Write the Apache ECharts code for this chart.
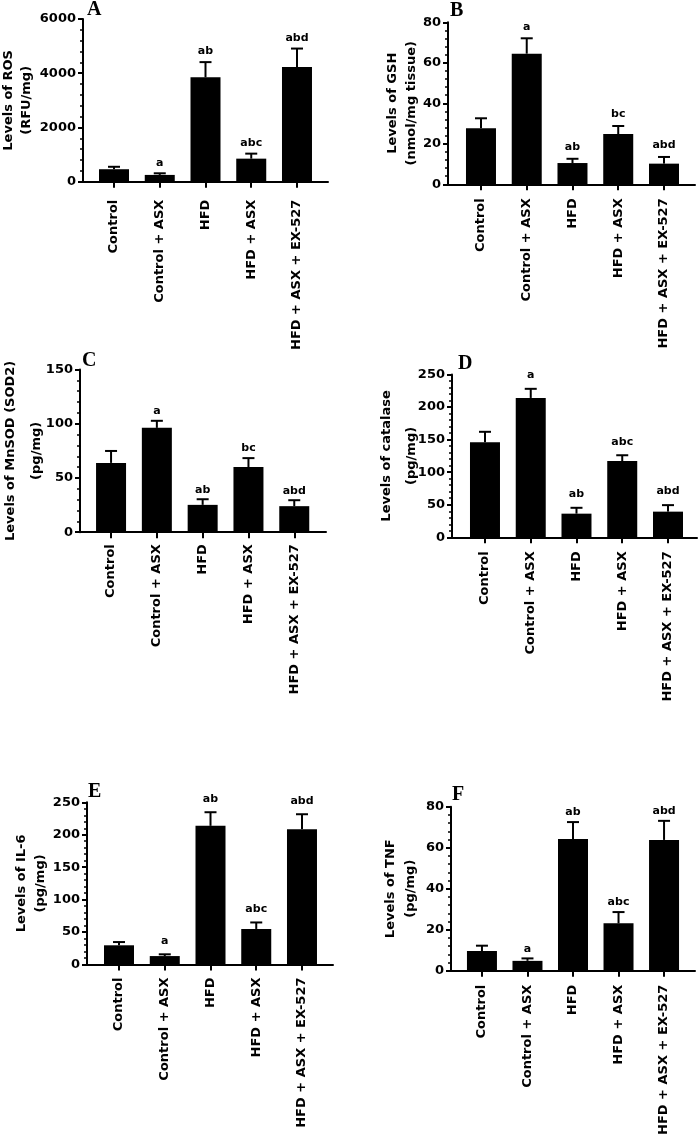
<!DOCTYPE html>
<html><head><meta charset="utf-8">
<script src="https://cdn.jsdelivr.net/npm/echarts@6/dist/echarts.min.js"></script>
<style>html,body{margin:0;padding:0;background:#fff}#c{width:700px;height:1134px}</style>
</head><body><div id="c"></div>
<script>
// ---------- data ----------
const categories = ['Control', 'Control + ASX', 'HFD', 'HFD + ASX', 'HFD + ASX + EX-527'];

const rosMean = [460, 250, 3850, 850, 4230];
const rosErr = [90, 60, 560, 185, 680];
const rosLetters = ['', 'a', 'ab', 'abc', 'abd'];

const gshMean = [27.7, 64.5, 10.5, 24.8, 10.2];
const gshErr = [4.9, 7.6, 2.1, 4.0, 3.3];
const gshLetters = ['', 'a', 'ab', 'bc', 'abd'];

const sodMean = [63.9, 96.2, 25.2, 60.0, 24.0];
const sodErr = [11, 6.5, 5.2, 8.3, 5.5];
const sodLetters = ['', 'a', 'ab', 'bc', 'abd'];

const catMean = [146, 214, 36.3, 117, 39.4];
const catErr = [16, 14, 9, 9, 10];
const catLetters = ['', 'a', 'ab', 'abc', 'abd'];

const il6Mean = [29.6, 13, 213.7, 54.8, 208.6];
const il6Err = [5, 2.7, 21, 10, 23];
const il6Letters = ['', 'a', 'ab', 'abc', 'abd'];

const tnfMean = [9.6, 4.8, 64.2, 23.1, 63.8];
const tnfErr = [2.6, 1.2, 8.3, 5.5, 9.3];
const tnfLetters = ['', 'a', 'ab', 'abc', 'abd'];

const panelLetters = ['A', 'B', 'C', 'D', 'E', 'F'];
const yTitles = [
  'Levels of ROS\n(RFU/mg)',
  'Levels of GSH\n(nmol/mg tissue)',
  'Levels of MnSOD (SOD2)\n(pg/mg)',
  'Levels of catalase\n(pg/mg)',
  'Levels of IL-6\n(pg/mg)',
  'Levels of TNF\n(pg/mg)'
];
const yMax = [6000, 80, 150, 250, 250, 80];
const yInterval = [2000, 20, 50, 50, 50, 20];

const means = [rosMean, gshMean, sodMean, catMean, il6Mean, tnfMean];
const errs = [rosErr, gshErr, sodErr, catErr, il6Err, tnfErr];
const letters = [rosLetters, gshLetters, sodLetters, catLetters, il6Letters, tnfLetters];

// ---------- layout (pixels) ----------
const layout = [
  {left: 83,  right: 328, top: 19,    zero: 181.7, xmin: -0.678, xmax: 4.678, nameGap: 47, lh: 18, xMargin: 18, gap: 7,  tl: 87,  tt: 0},
  {left: 448, right: 695, top: 22.3,  zero: 184.3, xmin: -0.721, xmax: 4.678, nameGap: 27, lh: 19, xMargin: 14, gap: 8,  tl: 450, tt: 1},
  {left: 80,  right: 326, top: 369.5, zero: 532.2, xmin: -0.678, xmax: 4.693, nameGap: 30, lh: 26, xMargin: 12, gap: 6,  tl: 82,  tt: 351},
  {left: 452, right: 697, top: 374.5, zero: 537.3, xmin: -0.721, xmax: 4.634, nameGap: 28, lh: 25, xMargin: 14, gap: 10, tl: 458, tt: 354},
  {left: 87,  right: 333, top: 802.3, zero: 964.5, xmin: -0.700, xmax: 4.678, nameGap: 37, lh: 19, xMargin: 13, gap: 10, tl: 88,  tt: 782},
  {left: 451, right: 695, top: 806.7, zero: 970.7, xmin: -0.680, xmax: 4.680, nameGap: 30, lh: 20, xMargin: 14, gap: 6,  tl: 452, tt: 785}
];

const FONT = 'DejaVu Sans';
const ticksAt = [0, 1, 2, 3, 4];

function errRender(lettersArr, gap) {
  return function (params, api) {
    const i = api.value(0), m = api.value(1), e = api.value(2);
    const p0 = api.coord([i, m]);
    const p1 = api.coord([i, m + e]);
    const children = [
      {type: 'line', shape: {x1: p0[0], y1: p0[1], x2: p1[0], y2: p1[1]}, style: {stroke: '#000', lineWidth: 2}},
      {type: 'line', shape: {x1: p1[0] - 6, y1: p1[1], x2: p1[0] + 6, y2: p1[1]}, style: {stroke: '#000', lineWidth: 2}}
    ];
    const t = lettersArr[params.dataIndex];
    if (t) {
      children.push({type: 'text', x: p1[0], y: p1[1] - gap + 2,
        style: {text: t, align: 'center', verticalAlign: 'bottom', fontSize: 11, fontWeight: 'bold', fontFamily: FONT, fill: '#000'}});
    }
    return {type: 'group', children: children};
  };
}

const grids = [], xAxes = [], yAxes = [], series = [], titles = [];
layout.forEach((L, k) => {
  grids.push({left: L.left, top: L.top, width: L.right - L.left, height: L.zero - L.top, outerBoundsMode: 'none', containLabel: false});
  xAxes.push({
    type: 'value', gridIndex: k, min: L.xmin, max: L.xmax,
    axisLine: {show: true, onZero: false, lineStyle: {color: '#000', width: 2}},
    axisTick: {show: true, length: 6, customValues: ticksAt, lineStyle: {color: '#000', width: 2}},
    axisLabel: {customValues: ticksAt, rotate: 90, margin: L.xMargin, color: '#000', fontFamily: FONT, fontWeight: 'bold', fontSize: 13,
      formatter: v => categories[Math.round(v)]},
    splitLine: {show: false}
  });
  yAxes.push({
    type: 'value', gridIndex: k, min: 0, max: yMax[k], interval: yInterval[k],
    axisLine: {show: true, onZero: false, lineStyle: {color: '#000', width: 2}},
    axisTick: {show: true, length: 5, lineStyle: {color: '#000', width: 2}},
    minorTick: {show: true, splitNumber: 5, length: 3, lineStyle: {color: '#000', width: 1.5}},
    splitLine: {show: false},
    axisLabel: {color: '#000', fontFamily: FONT, fontWeight: 'bold', fontSize: 13, margin: 7,
      formatter: v => String(v)},
    name: yTitles[k], nameLocation: 'middle', nameGap: L.nameGap, nameMoveOverlap: false,
    nameTextStyle: {color: '#000', fontFamily: FONT, fontWeight: 'bold', fontSize: 13, lineHeight: L.lh, align: 'center'}
  });
  series.push({
    type: 'bar', xAxisIndex: k, yAxisIndex: k, barWidth: 30, silent: true,
    itemStyle: {color: '#000'},
    data: means[k].map((v, i) => [i, v])
  });
  series.push({
    type: 'custom', xAxisIndex: k, yAxisIndex: k, clip: false, z: 5, silent: true,
    encode: {x: 0, y: 1},
    renderItem: errRender(letters[k], L.gap),
    data: means[k].map((v, i) => [i, v, errs[k][i]])
  });
  titles.push({text: panelLetters[k], left: L.tl, top: L.tt, padding: 0,
    textStyle: {fontFamily: 'Liberation Serif', fontWeight: 'bold', fontSize: 20, color: '#000'}});
});

const chart = echarts.init(document.getElementById('c'), null, {renderer: 'canvas'});
chart.setOption({
  backgroundColor: '#fff',
  animation: false,
  title: titles,
  grid: grids,
  xAxis: xAxes,
  yAxis: yAxes,
  series: series
});
</script>
</body></html>
